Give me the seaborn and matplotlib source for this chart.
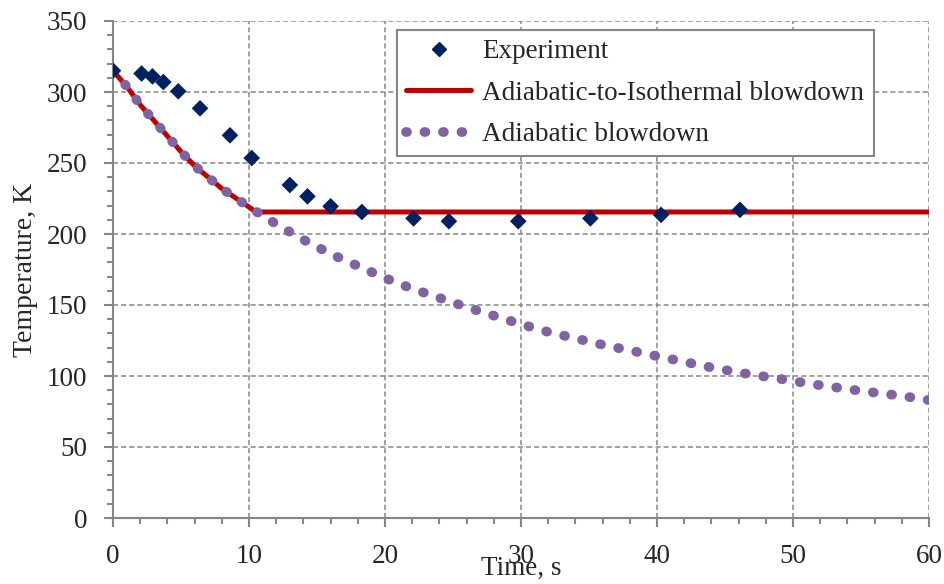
import pandas as pd
import seaborn as sns
import matplotlib.pyplot as plt
from matplotlib.ticker import MultipleLocator
from matplotlib.lines import Line2D

# experiment points (time s, temperature K)
exp_time = [0, 2.1, 2.9, 3.7, 4.8, 6.4, 8.6, 10.2, 13.0, 14.3, 16.0, 18.3,
            22.1, 24.7, 29.8, 35.1, 40.3, 46.1]
exp_temp = [315, 313, 311, 307, 300.5, 288.5, 269.5, 253.5, 234.5, 226.5, 219.5, 215.5,
            211, 209, 209, 211, 213.5, 217]

# adiabatic blowdown curve
adia_time = [0, 1, 2, 3, 4, 5, 6, 8, 10, 12, 14, 16, 18, 20, 22, 24, 26, 28, 30,
             32, 34, 36, 38, 40, 42, 44, 46, 48, 50, 52, 55, 58, 60]
adia_temp = [315, 304, 291, 280, 269, 258, 248, 232, 219, 207, 196, 186, 177.5, 169,
             161.5, 155, 148.5, 142.5, 136.5, 131, 126.5, 122, 118, 114, 110, 106,
             102.5, 99.5, 96.5, 93.5, 89.5, 86, 83]

# adiabatic-to-isothermal blowdown
iso_time = [0, 1, 2, 3, 4, 5, 6, 8, 10, 10.5, 60]
iso_temp = [315, 304, 291, 280, 269, 258, 248, 232, 219, 215.5, 215.5]

sns.set_style("white")
plt.rcParams['font.family'] = ['Liberation Serif', 'DejaVu Serif']
plt.rcParams['font.size'] = 19.5

fig = plt.figure(figsize=(9.44, 5.84), dpi=100)
ax = fig.add_axes([113/944, 1 - 518/584, 816/944, 497/584])

grey = '#868686'
c_exp = '#002060'
c_iso = '#C00000'
c_adia = '#8064A2'

iso_df = pd.DataFrame({'t': iso_time, 'T': iso_temp})
adia_df = pd.DataFrame({'t': adia_time, 'T': adia_temp})
exp_df = pd.DataFrame({'t': exp_time, 'T': exp_temp})

dot_lw = 7
dot_style = (0, (0.1, 1.8))
sns.lineplot(data=iso_df, x='t', y='T', ax=ax, color=c_iso, linewidth=3.6,
             sort=False, zorder=3)
sns.lineplot(data=adia_df, x='t', y='T', ax=ax, color=c_adia, linewidth=dot_lw,
             linestyle=dot_style, dash_capstyle='round', sort=False, zorder=4)
sns.scatterplot(data=exp_df, x='t', y='T', ax=ax, color=c_exp, marker='D',
                s=72, edgecolor='none', zorder=5)

ax.set_xlim(0, 60)
ax.set_ylim(0, 350)
ax.xaxis.set_major_locator(MultipleLocator(10))
ax.xaxis.set_minor_locator(MultipleLocator(2))
ax.yaxis.set_major_locator(MultipleLocator(50))
ax.yaxis.set_minor_locator(MultipleLocator(10))

ax.grid(True, which='major', color=grey, lw=1.1, linestyle=(0, (3.3, 2)))
for s in ['top', 'right']:
    ax.spines[s].set_visible(False)
for s in ['left', 'bottom']:
    ax.spines[s].set_color(grey)
    ax.spines[s].set_linewidth(1.5)

ax.tick_params(which='major', direction='out', length=6.5, width=1.5, color=grey,
               pad=12, labelsize=19.5, left=True, bottom=True)
ax.tick_params(which='minor', direction='out', length=4, width=1.5, color=grey,
               left=True, bottom=True)

ax.set_xlabel('Time, s', fontsize=19.5, labelpad=-9)
ax.set_ylabel('Temperature, K', fontsize=20, labelpad=6)

handles = [
    Line2D([], [], color=c_exp, marker='D', ms=7, linestyle='none'),
    Line2D([], [], color=c_iso, lw=3.6),
    Line2D([], [], color=c_adia, lw=dot_lw, linestyle=dot_style, dash_capstyle='round'),
]
labels = ['Experiment', 'Adiabatic-to-Isothermal blowdown', 'Adiabatic blowdown']
leg = ax.legend(handles, labels, loc='upper left',
                bbox_to_anchor=(397/944, 1 - 30/584), bbox_transform=fig.transFigure,
                fancybox=False, framealpha=1, edgecolor=grey, fontsize=19.5,
                handlelength=2.4, handletextpad=0.4, labelspacing=0.6,
                borderpad=0.35, borderaxespad=0)
leg.get_frame().set_linewidth(1.5)

plt.savefig('out.png', dpi=100)
